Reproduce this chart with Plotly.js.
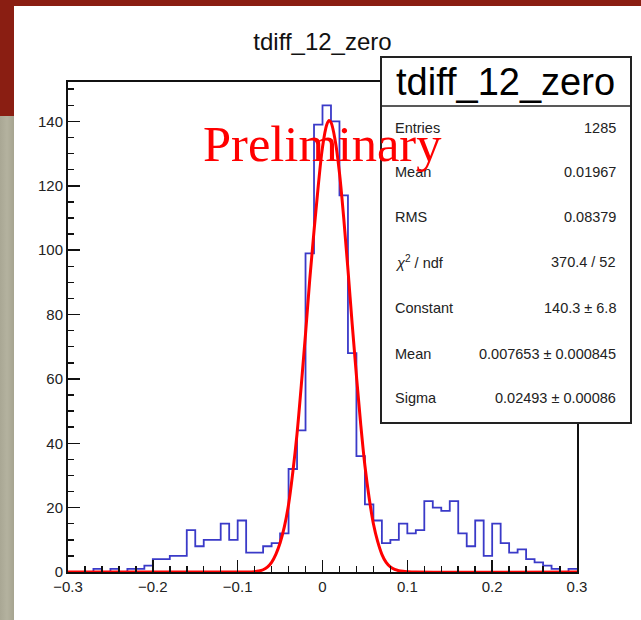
<!DOCTYPE html>
<html>
<head>
<meta charset="utf-8">
<script src="https://cdn.plot.ly/plotly-3.0.1.min.js"></script>
<style>
  html, body { margin: 0; padding: 0; }
  body { width: 641px; height: 620px; position: relative; overflow: hidden; background: #8a1e12; }
  #gray { position: absolute; left: 0; top: 116px; width: 14px; height: 504px;
          background: linear-gradient(90deg, #a9a794 0%, #b4b29f 50%, #a6a490 100%); }
  #chart { position: absolute; left: 14px; top: 6px; width: 627px; height: 614px; background: #fff; }
</style>
</head>
<body>
<div id="gray"></div>
<div id="chart"></div>
<script>
// ---- histogram: 60 bins from -0.3 to 0.3 ----
const binLow = -0.3;
const binWidth = 0.01;
const counts = [
  0, 0, 0, 1, 0, 1, 0, 1, 1, 2,
  4, 4, 5, 5, 13, 8, 10, 10, 15, 10,
  16, 6, 6, 8, 9, 12, 32, 44, 99, 139,
  145, 140, 117, 68, 36, 21, 16, 9, 10, 15,
  12, 13, 22, 20, 19, 22, 12, 8, 16, 5,
  15, 9, 6, 7, 4, 3, 2, 1, 0, 1
];

// ---- fitted curve ----
const fitX = [-0.3, -0.1, -0.09, -0.08, -0.075, -0.07, -0.065, -0.06, -0.055, -0.05,
  -0.045, -0.04, -0.035, -0.03, -0.025, -0.02, -0.015, -0.01, -0.005, 0,
  0.005, 0.0077, 0.01, 0.015, 0.02, 0.025, 0.03, 0.035, 0.04, 0.045,
  0.05, 0.055, 0.06, 0.065, 0.07, 0.075, 0.08, 0.085, 0.09, 0.095, 0.1, 0.11, 0.3];
const fitY = [0, 0, 0, 0.1, 0.3, 0.7, 1.5, 3, 5.5, 9,
  14, 21, 31, 43, 58, 74, 91, 106, 120, 132,
  139, 140.3, 139.7, 134, 124, 110, 94, 77, 61, 46,
  33, 23, 15, 9.5, 5.5, 3, 1.6, 0.8, 0.4, 0.2, 0.1, 0, 0];

// ---- text ----
const histTitle = "tdiff_12_zero";
const statLabels = ["Entries", "Mean", "RMS", "<i>χ</i><sup>2</sup> / ndf", "Constant", "Mean", "Sigma"];
const statValues = ["1285", "0.01967", "0.08379", "370.4 / 52", "140.3 ± 6.8", "0.007653 ± 0.000845", "0.02493 ± 0.00086"];
const watermark = "Preliminary";

const xTickVals = [-0.3, -0.2, -0.1, 0, 0.1, 0.2, 0.3];
const yTickVals = [0, 20, 40, 60, 80, 100, 120, 140];

// build step outline from bin edges
const stepX = counts.map((c, i) => binLow + i * binWidth);
stepX.push(binLow + counts.length * binWidth);
const stepY = counts.slice();
stepY.push(counts[counts.length - 1]);

// page-pixel -> paper helpers (plot area: x 68..577, y 82..572 on the page)
const PX0 = 68, PX1 = 577, PY0 = 82, PY1 = 572;
const px = v => (v - PX0) / (PX1 - PX0);
const py = v => (PY1 - v) / (PY1 - PY0);

const rowY = [128, 172, 217, 262, 308, 354, 398];
const statFont = {family: 'Liberation Sans, Arial, sans-serif', size: 14.5, color: '#222'};
const annotations = [];
statLabels.forEach((t, i) => {
  annotations.push({xref: 'paper', yref: 'paper', x: px(393), y: py(rowY[i]), xanchor: 'left', yanchor: 'middle',
    text: t, showarrow: false, font: statFont});
  annotations.push({xref: 'paper', yref: 'paper', x: px(618), y: py(rowY[i]), xanchor: 'right', yanchor: 'middle',
    text: statValues[i], showarrow: false, font: statFont});
});
annotations.push({xref: 'paper', yref: 'paper', x: px(505), y: py(82), xanchor: 'center', yanchor: 'middle',
  text: histTitle, showarrow: false, font: {family: 'Liberation Sans, Arial, sans-serif', size: 38, color: '#000'}});
annotations.push({xref: 'paper', yref: 'paper', x: px(322), y: py(144), xanchor: 'center', yanchor: 'middle',
  text: watermark, showarrow: false, font: {family: 'Liberation Serif, Times New Roman, serif', size: 50.5, color: '#ff0000'}});

const traces = [
  {x: stepX, y: stepY, type: 'scatter', mode: 'lines', line: {shape: 'hv', color: '#3a3ac8', width: 1.8},
   hoverinfo: 'skip', showlegend: false},
  {x: fitX, y: fitY, type: 'scatter', mode: 'lines', line: {shape: 'spline', smoothing: 1, color: '#ff0000', width: 3},
   hoverinfo: 'skip', showlegend: false}
];

const axisFont = {family: 'Liberation Sans, Arial, sans-serif', size: 15, color: '#222'};
const layout = {
  width: 627, height: 614,
  margin: {l: 54, r: 64, t: 76, b: 48, pad: 0},
  paper_bgcolor: '#ffffff', plot_bgcolor: '#ffffff',
  showlegend: false,
  title: {text: histTitle, xref: 'paper', x: 0.5, xanchor: 'center', yref: 'container', y: 1 - (42 - 6) / 614, yanchor: 'middle',
    font: {family: 'Liberation Sans, Arial, sans-serif', size: 24, color: '#111'}},
  xaxis: {range: [-0.3, 0.3], tickvals: xTickVals, ticks: 'inside', ticklen: 12, tickwidth: 1.5, tickcolor: '#111',
    minor: {dtick: 0.02, tick0: -0.3, ticks: 'inside', ticklen: 6, tickwidth: 1.5, tickcolor: '#111', showgrid: false},
    showline: true, linecolor: '#111', linewidth: 2, mirror: true, showgrid: false, zeroline: false,
    tickfont: axisFont, fixedrange: true},
  yaxis: {range: [0, 152.25], tickvals: yTickVals, ticks: 'inside', ticklen: 12, tickwidth: 1.5, tickcolor: '#111',
    minor: {dtick: 5, tick0: 0, ticks: 'inside', ticklen: 6, tickwidth: 1.5, tickcolor: '#111', showgrid: false},
    showline: true, linecolor: '#111', linewidth: 2, mirror: true, showgrid: false, zeroline: false,
    tickfont: axisFont, fixedrange: true},
  shapes: [
    {type: 'rect', xref: 'paper', yref: 'paper', x0: px(381), x1: px(631), y0: py(423), y1: py(57),
     line: {color: '#222', width: 2}, fillcolor: '#ffffff', layer: 'above'},
    {type: 'line', xref: 'paper', yref: 'paper', x0: px(381), x1: px(631), y0: py(106), y1: py(106),
     line: {color: '#222', width: 1.5}, layer: 'above'}
  ],
  annotations: annotations
};

Plotly.newPlot('chart', traces, layout, {staticPlot: true, displayModeBar: false});
</script>
</body>
</html>
